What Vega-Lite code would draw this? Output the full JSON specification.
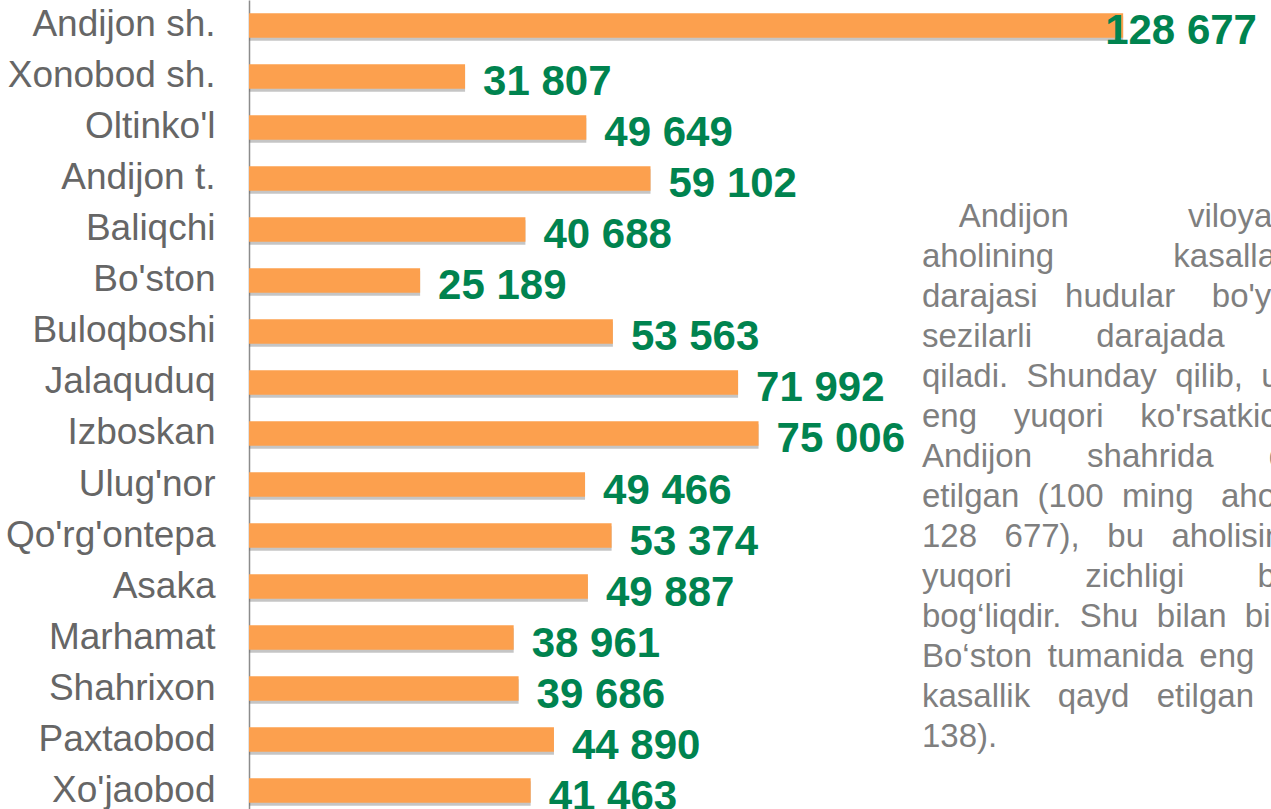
{
  "$schema": "https://vega.github.io/schema/vega-lite/v6.json",
  "width": 1022,
  "height": 809,
  "autosize": {"type": "none"},
  "padding": {"left": 249, "top": 0, "right": 0, "bottom": 0},
  "background": "#ffffff",
  "config": {
    "view": {"stroke": null},
    "font": "Liberation Sans",
    "locale": {"number": {"decimal": ".", "thousands": " ", "grouping": [3], "currency": ["", ""]}}
  },
  "data": {
    "values": [
      {"region": "Andijon sh.", "value": 128677},
      {"region": "Xonobod sh.", "value": 31807},
      {"region": "Oltinko'l", "value": 49649},
      {"region": "Andijon t.", "value": 59102},
      {"region": "Baliqchi", "value": 40688},
      {"region": "Bo'ston", "value": 25189},
      {"region": "Buloqboshi", "value": 53563},
      {"region": "Jalaquduq", "value": 71992},
      {"region": "Izboskan", "value": 75006},
      {"region": "Ulug'nor", "value": 49466},
      {"region": "Qo'rg'ontepa", "value": 53374},
      {"region": "Asaka", "value": 49887},
      {"region": "Marhamat", "value": 38961},
      {"region": "Shahrixon", "value": 39686},
      {"region": "Paxtaobod", "value": 44890},
      {"region": "Xo'jaobod", "value": 41463}
    ]
  },
  "layer": [
    {
      "mark": {"type": "bar", "color": "#6e6e6e", "opacity": 0.4, "yOffset": 3, "y2Offset": 3, "x2Offset": 2},
      "encoding": {
        "y": {
          "field": "region", "type": "nominal",
          "scale": {
            "domain": ["Andijon sh.", "Xonobod sh.", "Oltinko'l", "Andijon t.", "Baliqchi", "Bo'ston", "Buloqboshi", "Jalaquduq", "Izboskan", "Ulug'nor", "Qo'rg'ontepa", "Asaka", "Marhamat", "Shahrixon", "Paxtaobod", "Xo'jaobod"],
            "paddingInner": 0.52, "paddingOuter": 0.19, "align": 0.68
          },
          "axis": {
            "title": null, "ticks": false, "labelFontSize": 37, "labelColor": "#666666",
            "labelPadding": 34, "domainColor": "#8c8c8c", "domainWidth": 1.5,
            "labelFont": "Liberation Sans", "labelLimit": 0
          }
        },
        "x": {"field": "value", "type": "quantitative", "scale": {"domain": [0, 150440], "nice": false}, "axis": null}
      }
    },
    {
      "mark": {"type": "bar", "color": "#FCA04E"},
      "encoding": {
        "y": {"field": "region", "type": "nominal"},
        "x": {"field": "value", "type": "quantitative"}
      }
    },
    {
      "transform": [{"filter": "datum.value < 100000"}],
      "mark": {"type": "text", "align": "left", "baseline": "middle", "dx": 18, "dy": 6, "fontSize": 42, "fontWeight": "bold", "color": "#00834F", "font": "Liberation Sans"},
      "encoding": {
        "y": {"field": "region", "type": "nominal"},
        "x": {"field": "value", "type": "quantitative"},
        "text": {"field": "value", "type": "quantitative", "format": ","}
      }
    },
    {
      "transform": [{"filter": "datum.value >= 100000"}],
      "mark": {"type": "text", "align": "left", "baseline": "middle", "dx": -18, "dy": 6, "fontSize": 42, "fontWeight": "bold", "color": "#00834F", "font": "Liberation Sans"},
      "encoding": {
        "y": {"field": "region", "type": "nominal"},
        "x": {"field": "value", "type": "quantitative"},
        "text": {"field": "value", "type": "quantitative", "format": ","}
      }
    },
    {
      "data": {"values": [{"note": "izoh"}]},
      "mark": {
        "type": "text", "align": "left", "baseline": "middle", "dy": -12,
        "fontSize": 33, "lineHeight": 40, "color": "#7f7f7f", "font": "Liberation Sans",
        "text": [
          "\u200b\u00a0\u00a0\u00a0\u00a0Andijon\u00a0\u00a0\u00a0\u00a0\u00a0\u00a0\u00a0\u00a0\u00a0\u00a0\u00a0\u00a0\u00a0viloyatida",
          "aholining\u00a0\u00a0\u00a0\u00a0\u00a0\u00a0\u00a0\u00a0\u00a0\u00a0\u00a0\u00a0\u00a0kasallanish",
          "darajasi\u00a0\u00a0\u00a0hudular\u00a0\u00a0\u00a0\u00a0bo'yicha",
          "sezilarli\u00a0\u00a0\u00a0\u00a0\u00a0\u00a0\u00a0darajada\u00a0\u00a0\u00a0\u00a0\u00a0\u00a0\u00a0farq",
          "qiladi.\u00a0\u00a0Shunday\u00a0\u00a0qilib,\u00a0\u00a0umumiy",
          "eng\u00a0\u00a0\u00a0\u00a0yuqori\u00a0\u00a0\u00a0\u00a0ko'rsatkichi",
          "Andijon\u00a0\u00a0\u00a0\u00a0\u00a0\u00a0shahrida\u00a0\u00a0\u00a0\u00a0\u00a0\u00a0qayd",
          "etilgan\u00a0\u00a0(100\u00a0\u00a0ming\u00a0\u00a0\u00a0aholiga",
          "128\u00a0\u00a0\u00a0677),\u00a0\u00a0\u00a0bu\u00a0\u00a0\u00a0aholisining",
          "yuqori\u00a0\u00a0\u00a0\u00a0\u00a0\u00a0\u00a0\u00a0zichligi\u00a0\u00a0\u00a0\u00a0\u00a0\u00a0\u00a0\u00a0bilan",
          "bog\u2018liqdir.\u00a0\u00a0Shu\u00a0\u00a0bilan\u00a0\u00a0birga,",
          "Bo\u2018ston\u00a0\u2009tumanida\u00a0\u2009eng\u00a0\u2009kam",
          "kasallik\u00a0\u00a0\u00a0qayd\u00a0\u00a0\u00a0etilgan\u00a0\u00a0\u00a0\u00a0(25",
          "138)."
        ]
      },
      "encoding": {
        "x": {"datum": 99065, "type": "quantitative"},
        "y": {"datum": "Baliqchi", "type": "nominal"}
      }
    }
  ]
}
